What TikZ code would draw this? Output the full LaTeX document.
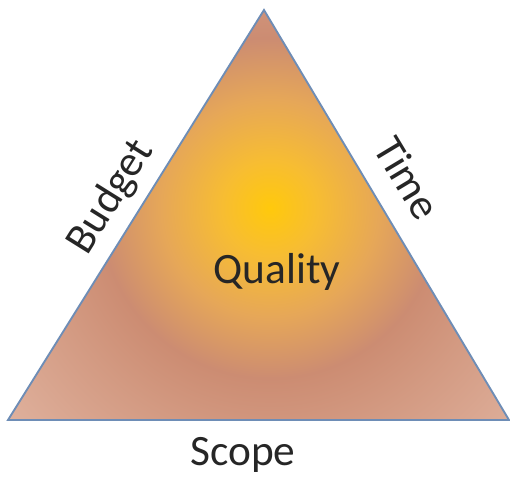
\documentclass[tikz,border=0pt]{standalone}
\usepackage{fontspec}
\setmainfont{Carlito}
\usepackage{tikz}

% colours of the glow and the frame
\definecolor{qyellow}{HTML}{FFC90C}
\definecolor{qgold}{HTML}{F7BD32}
\definecolor{qtan}{HTML}{E6A758}
\definecolor{qrose}{HTML}{CC8C72}
\definecolor{qrosefade}{HTML}{D39A82}
\definecolor{qpale}{HTML}{DFB19D}
\definecolor{edgeblue}{HTML}{6E8DB6}
\definecolor{inkgray}{HTML}{262626}

\pgfdeclareradialshading{qualityglow}{\pgfpoint{0bp}{0bp}}{%
  color(0bp)=(qyellow); color(3.5bp)=(qgold); color(8bp)=(qtan);
  color(12.5bp)=(qrose); color(17bp)=(qrosefade); color(25bp)=(qpale);
  color(50bp)=(qpale)}

\tikzset{
  edge/.style={draw=edgeblue, line width=1.6pt},
  word/.style={font=\fontsize{37}{40}\selectfont, text=inkgray, inner sep=2pt},
}

\begin{document}
\begin{tikzpicture}[x=0.03cm, y=-0.03cm]
        \useasboundingbox (0,0) rectangle (510,476);
        % Corners
        \coordinate (A) at (264,10);
        \coordinate (L) at (8,420);
        \coordinate (R) at (509,420);
        % Glow inside the triangle
        \begin{scope}
            \clip (L) -- (A) -- (R) -- cycle;
            \shade[shading=qualityglow] (270,208) circle (340);
        \end{scope}
        \draw[edge] (L) -- (A) -- (R) -- cycle;
        % Labels
        \node[word, rotate=58] (budget) at (111,197) {Budget};
        \node[word, rotate=-59] (time) at (408,178) {Time};
        \node[word, anchor=base] (quality) at (277,283) {Quality};
        \node[word, anchor=base] (scope) at (243,465) {Scope};
    \end{tikzpicture}
\end{document}
